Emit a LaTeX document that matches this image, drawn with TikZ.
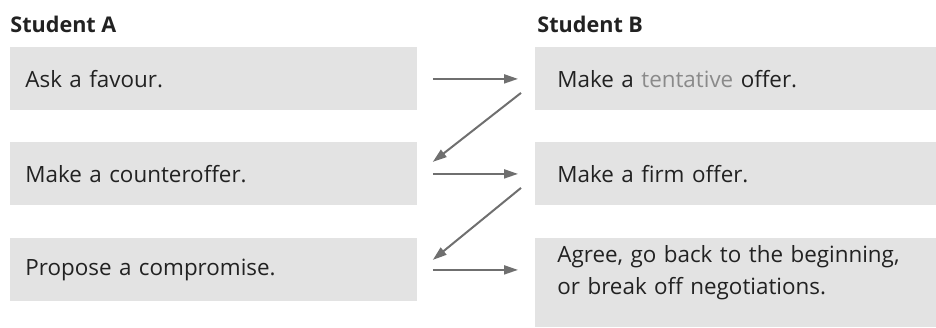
\documentclass[tikz,border=0pt]{standalone}
\usepackage{fontspec}
\setmainfont{Open Sans}
\usetikzlibrary{arrows.meta}
\definecolor{boxgray}{HTML}{E3E3E3}
\definecolor{arrowgray}{HTML}{6F6F6F}
\definecolor{inkgray}{HTML}{222222}
\definecolor{softgray}{HTML}{8A8A8A}
\begin{document}
\begin{tikzpicture} [x=0.5pt,y=-0.5pt,
  every node/.style={font=\fontsize{11.2}{16}\selectfont, text=inkgray},
  head/.style={anchor=west, inner sep=0pt, font=\fontsize{10.8}{16}\selectfont\bfseries},
  abox/.style={fill=boxgray, anchor=north west, minimum height=31.5pt,
    text width=188.5pt, inner xsep=7.5pt, align=left},
  bbox/.style={fill=boxgray, anchor=north west, minimum height=31.5pt,
    text width=178.5pt, inner xsep=11pt, align=left},
  move/.style={draw=arrowgray, line width=1pt, -{Triangle[length=7pt,width=4.5pt]}}]

\useasboundingbox (0,0) rectangle (936,327);
%\draw [step=50, dotted] (0,0) grid (936,327);

\node [head] (heada) at (10,24) {Student A};
\node [head] (headb) at (537,24) {Student B};

\node [abox] (a1) at (10,47) {Ask a favour.};
\node [abox] (a2) at (10,142) {Make a counteroffer.};
\node [abox] (a3) at (10,238) {Propose a compromise.};

\node [bbox] (b1) at (535,47) {Make a {\color{softgray}tentative} offer.};
\node [bbox] (b2) at (535,142) {Make a firm offer.};
\node [bbox, inner ysep=3.5pt] (b3) at (535,238)
  {Agree, go back to the beginning,\\or break off negotiations.\rule[-13pt]{0pt}{0pt}};

\draw [move, shorten <=7.5pt, shorten >=8.5pt] (a1) -- (b1);
\draw [move, shorten <=7.5pt, shorten >=8.5pt] (a2) -- (b2);
\draw [move, shorten <=7.5pt, shorten >=8.5pt] (a3.east) -- (a3.east -| b3.west);

\draw [move] ([shift={(-14,14)}]b1.west) -- ([shift={(15,-12)}]a2.east);
\draw [move] ([shift={(-14,14)}]b2.west) -- ([shift={(15,-10)}]a3.east);

\end{tikzpicture}
\end{document}
